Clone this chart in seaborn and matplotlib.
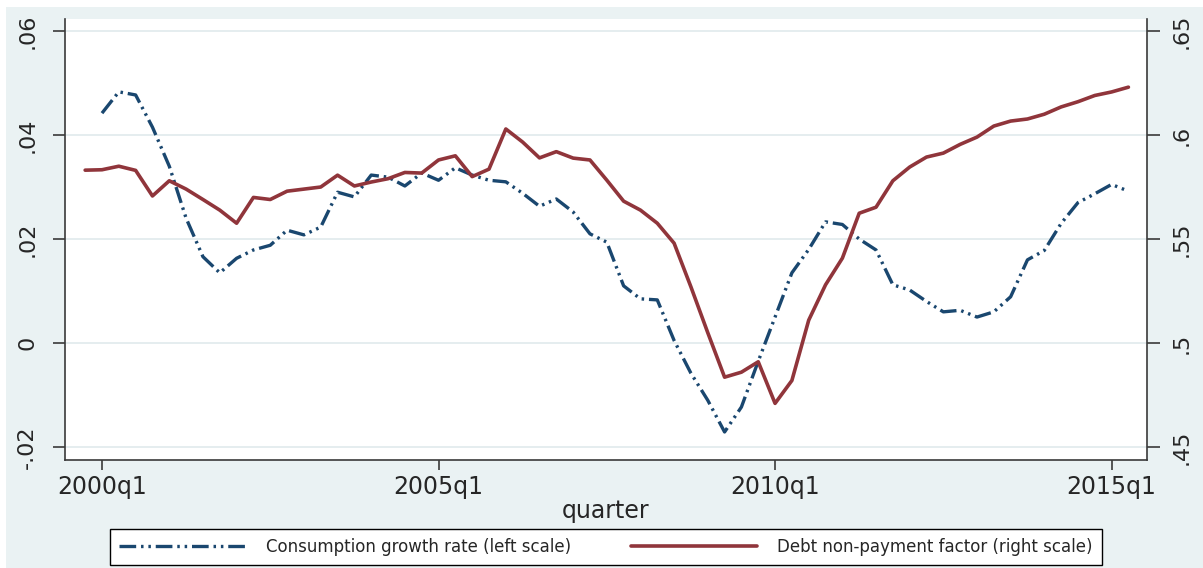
import matplotlib.pyplot as plt
import matplotlib.patches as mpatches
import pandas as pd
import seaborn as sns

# quarter index: 0 = 2000q1
quarters_cons = list(range(0, 62))
consumption = [
    0.0442, 0.0483, 0.0477, 0.0415, 0.0340, 0.0240, 0.0166, 0.0135, 0.0163, 0.0179,
    0.0188, 0.0217, 0.0208, 0.0223, 0.0290, 0.0281, 0.0323, 0.0319, 0.0302, 0.0327,
    0.0313, 0.0337, 0.0323, 0.0313, 0.0310, 0.0288, 0.0263, 0.0277, 0.0252, 0.0210,
    0.0194, 0.0110, 0.0085, 0.0083, 0.0005, -0.0058, -0.0110, -0.0171, -0.0123, -0.0035,
    0.0050, 0.0135, 0.0180, 0.0233, 0.0228, 0.0200, 0.0179, 0.0112, 0.0102, 0.0080,
    0.0060, 0.0063, 0.0050, 0.0060, 0.0089, 0.0160, 0.0178, 0.0230, 0.0270, 0.0287,
    0.0305, 0.0292,
]
quarters_debt = list(range(-1, 62))
debt = [
    0.5831, 0.5833, 0.5850, 0.5830, 0.5707, 0.5780, 0.5740, 0.5690, 0.5639, 0.5576,
    0.5700, 0.5690, 0.5730, 0.5740, 0.5750, 0.5807, 0.5755, 0.5774, 0.5790, 0.5820,
    0.5817, 0.5880, 0.5900, 0.5800, 0.5836, 0.6029, 0.5966, 0.5890, 0.5920, 0.5889,
    0.5880, 0.5783, 0.5682, 0.5639, 0.5576, 0.5480, 0.5270, 0.5050, 0.4836, 0.4860,
    0.4910, 0.4710, 0.4820, 0.5110, 0.5280, 0.5408, 0.5624, 0.5653, 0.5780, 0.5846,
    0.5894, 0.5913, 0.5955, 0.5990, 0.6043, 0.6067, 0.6077, 0.6100, 0.6135, 0.6160,
    0.6190, 0.6207, 0.6230,
]
xtick_pos = [0, 20, 40, 60]
xtick_labels = ["2000q1", "2005q1", "2010q1", "2015q1"]
left_ticks = [-0.02, 0, 0.02, 0.04, 0.06]
left_labels = ["-.02", "0", ".02", ".04", ".06"]
right_ticks = [0.45, 0.5, 0.55, 0.6, 0.65]
right_labels = [".45", ".5", ".55", ".6", ".65"]

df_cons = pd.DataFrame({"quarter": quarters_cons, "value": consumption})
df_debt = pd.DataFrame({"quarter": quarters_debt, "value": debt})

sns.set_theme(style="white")
plt.rcParams["font.family"] = ["DejaVu Sans"]
plt.rcParams["lines.scale_dashes"] = False

bg = "#EAF2F3"
blue = "#1A476F"
red = "#90353B"
axcol = "#3A3A3A"

fig = plt.figure(figsize=(12.03, 5.68), dpi=100, facecolor="white")
fig.patches.append(mpatches.Rectangle((0.005, 0), 0.995, 0.9877, transform=fig.transFigure,
                                      facecolor=bg, edgecolor="none", zorder=-10))
ax = fig.add_axes([0.054, 0.19, 0.8994, 0.7765])
ax.set_facecolor("white")
ax2 = ax.twinx()

sns.lineplot(data=df_cons, x="quarter", y="value", ax=ax, color=blue, linewidth=2.4)
sns.lineplot(data=df_debt, x="quarter", y="value", ax=ax2, color=red, linewidth=2.6)
ax.lines[0].set_dashes([12, 3.5, 1.8, 3.5, 1.8, 3.5])
ax.lines[0].set_dash_capstyle("butt")

ax.set_xlim(-2.2, 62.1)
ax.set_ylim(-0.0225, 0.0623)
ax2.set_ylim(0.44375, 0.65575)

ax.set_xticks(xtick_pos)
ax.set_xticklabels(xtick_labels, fontsize=17)
ax.set_yticks(left_ticks)
ax.set_yticklabels(left_labels, fontsize=16, rotation=90, va="center")
ax2.set_yticks(right_ticks)
ax2.set_yticklabels(right_labels, fontsize=16, rotation=90, va="center")

ax.yaxis.grid(True, color="#E3ECEE", linewidth=1.3)
ax.set_axisbelow(True)

ax.tick_params(axis="x", length=7, width=1.2, color=axcol, pad=4, bottom=True)
ax.tick_params(axis="y", length=9, width=1.2, color=axcol, pad=11, left=True)
ax2.tick_params(axis="y", length=9, width=1.2, color=axcol, pad=9, right=True)

for s in ["top", "right"]:
    ax.spines[s].set_visible(False)
for s in ["top", "left", "bottom"]:
    ax2.spines[s].set_visible(False)
for sp in [ax.spines["left"], ax.spines["bottom"], ax2.spines["right"]]:
    sp.set_color(axcol)
    sp.set_linewidth(1.2)

ax.set_xlabel("quarter", fontsize=17, labelpad=0)
ax.set_ylabel(None)
ax2.set_ylabel(None)

h1 = ax.lines[0]
h2 = ax2.lines[0]
leg = fig.legend(
    [h1, h2],
    ["Consumption growth rate (left scale)", "Debt non-payment factor (right scale)"],
    loc="lower center",
    bbox_to_anchor=(606 / 1203, 3 / 568),
    ncol=2,
    fontsize=12,
    handlelength=7.6,
    handletextpad=1.2,
    columnspacing=3.6,
    borderpad=0.55,
    borderaxespad=0,
    frameon=True,
    fancybox=False,
    edgecolor="black",
    facecolor="white",
    framealpha=1,
)
leg.get_frame().set_linewidth(1.0)

plt.savefig("out.png", dpi=100, facecolor=fig.get_facecolor())
